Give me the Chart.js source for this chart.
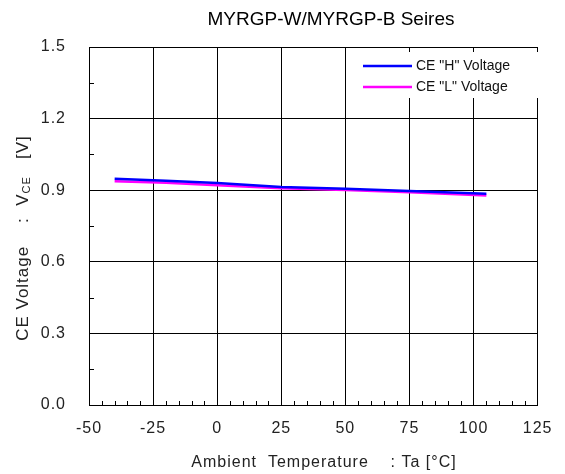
<!DOCTYPE html>
<html lang="en">

<head>
  <meta charset="utf-8">
  <title>MYRGP-W/MYRGP-B Seires</title>
  <script src="https://cdn.jsdelivr.net/npm/chart.js@4.4.1/dist/chart.umd.min.js"></script>
  <style>
    html, body { margin: 0; padding: 0; background: #fff; }
    #wrap { width: 565px; height: 474px; }
  </style>
</head>

<body>
  <div id="wrap"><canvas id="chart" width="565" height="474"></canvas></div>

  <script type="text/javascript">
    // data
    var temps = [-40, -20, 0, 25, 50, 75, 105];
    var voltageH = [0.948, 0.940, 0.930, 0.913, 0.906, 0.897, 0.885];
    var voltageL = [0.938, 0.931, 0.921, 0.908, 0.901, 0.891, 0.878];
    var seriesLabels = ['CE "H" Voltage', 'CE "L" Voltage'];
    var xTicks = [-50, -25, 0, 25, 50, 75, 100, 125];
    var yTicks = [0.0, 0.3, 0.6, 0.9, 1.2, 1.5];

    var FONT = "'Liberation Sans', Arial, sans-serif";

    function toPoints(xs, ys) {
      return xs.map(function (x, i) { return { x: x, y: ys[i] }; });
    }

    // wider glyph spacing like the original GDI render
    var spacing = {
      id: 'spacing',
      beforeDraw: function (chart) { chart.ctx.letterSpacing = '1px'; }
    };

    // titles, legend box and minor ticks
    var decorations = {
      id: 'decorations',
      afterDatasetsDraw: function (chart) {
        var ctx = chart.ctx, area = chart.chartArea;
        var xs = chart.scales.x, ys = chart.scales.y;
        ctx.save();

        // minor ticks (inside)
        ctx.strokeStyle = '#000';
        ctx.lineWidth = 1;
        ctx.beginPath();
        for (var i = 0; i < 5; i++) {
          var py = Math.round(ys.getPixelForValue(0.15 + i * 0.3)) + 0.5;
          ctx.moveTo(area.left, py);
          ctx.lineTo(area.left + 5, py);
        }
        for (var t = -50; t <= 125; t += 5) {
          if (t % 25 === 0) continue;
          var px = Math.round(xs.getPixelForValue(t)) + 0.5;
          ctx.moveTo(px, area.bottom);
          ctx.lineTo(px, area.bottom - 4);
        }
        ctx.stroke();

        // legend
        ctx.fillStyle = '#fff';
        ctx.fillRect(352, 52, 186, 46);
        ctx.letterSpacing = '0px';
        ctx.font = '14px ' + FONT;
        ctx.textBaseline = 'middle';
        ctx.textAlign = 'left';
        chart.data.datasets.forEach(function (ds, k) {
          var ly = 66 + k * 21;
          ctx.strokeStyle = ds.borderColor;
          ctx.lineWidth = 2.5;
          ctx.beginPath();
          ctx.moveTo(363, ly);
          ctx.lineTo(412, ly);
          ctx.stroke();
          ctx.fillStyle = '#111';
          ctx.fillText(ds.label, 416, ly);
        });

        // chart title
        ctx.fillStyle = '#000';
        ctx.textAlign = 'center';
        ctx.font = '19px ' + FONT;
        ctx.fillText('MYRGP-W/MYRGP-B Seires', 331, 20);

        // x axis title
        ctx.letterSpacing = '1px';
        ctx.fillStyle = '#222';
        ctx.font = '16px ' + FONT;
        ctx.fillText('Ambient  Temperature    : Ta [\u00B0C]', 324, 463);

        // y axis title with subscript
        ctx.translate(23, 238);
        ctx.rotate(-Math.PI / 2);
        ctx.textAlign = 'left';
        var big = '17px ' + FONT, small = '11px ' + FONT;
        var p1 = 'CE Voltage    :  V', p2 = 'CE', p3 = '   [V]';
        ctx.font = big;
        var w1 = ctx.measureText(p1).width, w3 = ctx.measureText(p3).width;
        ctx.font = small;
        var w2 = ctx.measureText(p2).width;
        var x0 = -(w1 + w2 + w3) / 2;
        ctx.font = big;
        ctx.fillText(p1, x0, 0);
        ctx.font = small;
        ctx.fillText(p2, x0 + w1, 4);
        ctx.font = big;
        ctx.fillText(p3, x0 + w1 + w2, 0);

        ctx.restore();
      }
    };

    new Chart(document.getElementById('chart').getContext('2d'), {
      type: 'line',
      data: {
        datasets: [
          {
            label: seriesLabels[0],
            data: toPoints(temps, voltageH),
            borderColor: '#0000ff',
            borderWidth: 2.5,
            pointRadius: 0,
            fill: false,
            tension: 0
          },
          {
            label: seriesLabels[1],
            data: toPoints(temps, voltageL),
            borderColor: '#ff00ff',
            borderWidth: 2.5,
            pointRadius: 0,
            fill: false,
            tension: 0
          }
        ]
      },
      options: {
        responsive: false,
        animation: false,
        layout: { padding: { top: 47, right: 25, left: 0, bottom: 0 } },
        plugins: {
          legend: { display: false },
          title: { display: false },
          tooltip: { enabled: false }
        },
        scales: {
          x: {
            type: 'linear',
            min: -50,
            max: 125,
            afterBuildTicks: function (s) { s.ticks = xTicks.map(function (v) { return { value: v }; }); },
            afterFit: function (s) { s.height = 69; },
            grid: { color: '#000', lineWidth: 1, drawTicks: false },
            border: { color: '#000', width: 1 },
            ticks: {
              padding: 14,
              color: '#222',
              font: { family: FONT, size: 16 },
              maxRotation: 0,
              autoSkip: false
            }
          },
          y: {
            type: 'linear',
            min: 0,
            max: 1.5,
            afterBuildTicks: function (s) { s.ticks = yTicks.map(function (v) { return { value: v }; }); },
            afterFit: function (s) { s.width = 89; },
            grid: { color: '#000', lineWidth: 1, drawTicks: false },
            border: { color: '#000', width: 1 },
            ticks: {
              padding: 23,
              color: '#222',
              font: { family: FONT, size: 16 },
              autoSkip: false,
              callback: function (v) { return Number(v).toFixed(1); }
            }
          }
        }
      },
      plugins: [spacing, decorations]
    });
  </script>
</body>

</html>
